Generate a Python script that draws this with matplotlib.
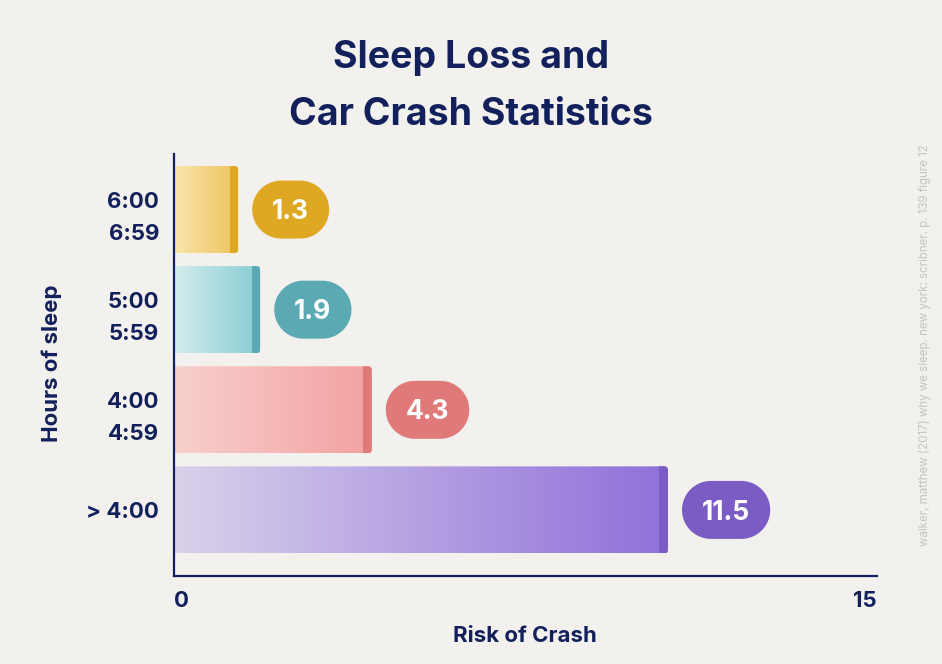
import numpy as np
import matplotlib
matplotlib.use("Agg")
import matplotlib.pyplot as plt
from matplotlib.patches import FancyBboxPatch, Rectangle, Polygon
from matplotlib.transforms import IdentityTransform
from matplotlib.colors import to_rgb

# ---------------- data ----------------
categories = ["6:00\n6:59", "5:00\n5:59", "4:00\n4:59", "> 4:00"]
risk = [1.3, 1.9, 4.3, 11.5]                 # value shown in the pills
bar_length = [1.37, 1.84, 4.22, 10.54]       # drawn bar lengths
x_ticks = [0, 15]
x_tick_labels = ["0", "15"]
title_lines = ["Sleep Loss and", "Car Crash Statistics"]
x_label = "Risk of Crash"
y_label = "Hours of sleep"
source = "walker, matthew (2017) why we sleep. new york: scribner. p. 139 figure 12"

# ---------------- style ----------------
grad_left = ["#F8E5AE", "#D3ECEC", "#F7D0CE", "#D9D1EA"]
grad_right = ["#EFC35C", "#86CDD4", "#F3A1A1", "#8F70DA"]
accent = ["#DFA823", "#5BAAB3", "#E07A7A", "#7A5CC4"]
BG = "#F3F1EE"
NAVY = "#12205C"
FONT = ["Inter", "DejaVu Sans"]
plt.rcParams["font.family"] = FONT

W, H = 942, 664
fig = plt.figure(figsize=(W / 100, H / 100), dpi=100, facecolor=BG)
ax = fig.add_axes([174 / W, (H - 576) / H, 703 / W, 422 / H])
ax.set_facecolor(BG)
ax.set_xlim(0, 15)
ax.set_ylim(3.66, -0.555)
ax.set_autoscale_on(False)

half = 0.435
renderer = fig.canvas.get_renderer()


def pill_vertices(x0, cy, w, h, n=40):
    r = h / 2
    a_r = np.linspace(-np.pi / 2, np.pi / 2, n)
    a_l = np.linspace(np.pi / 2, 3 * np.pi / 2, n)
    right = np.column_stack([x0 + w - r + r * np.cos(a_r), cy + r * np.sin(a_r)])
    left = np.column_stack([x0 + r + r * np.cos(a_l), cy + r * np.sin(a_l)])
    return np.vstack([right, left])


for i, (L, v) in enumerate(zip(bar_length, risk)):
    # pixel geometry of the bar (display coords)
    (x0, yb), (x1, yt) = ax.transData.transform([(0, i + half), (L, i - half)])
    h = yt - yb
    clip = FancyBboxPatch((x0 - 8, yb), (x1 - x0 + 8), h,
                          boxstyle="round,pad=0,rounding_size=4",
                          transform=IdentityTransform(), facecolor="none", edgecolor="none")
    t = np.linspace(0, 1, 256)[None, :, None]
    img = np.array(to_rgb(grad_left[i]))[None, None, :] * (1 - t) + \
          np.array(to_rgb(grad_right[i]))[None, None, :] * t
    im = ax.imshow(img, extent=(0, L, i + half, i - half), aspect="auto",
                   interpolation="bilinear", zorder=1)
    im.set_clip_path(clip)
    cap = Rectangle((x1 - 8.5, yb), 8.5, h, transform=IdentityTransform(),
                    facecolor=accent[i], edgecolor="none", zorder=1.5)
    cap.set_clip_path(clip)
    ax.add_patch(cap)

    # value pill
    cy = (yb + yt) / 2
    fs = 19
    txt = ax.text(0, 0, f"{v}", fontsize=fs, fontweight="bold", color="white",
                  transform=IdentityTransform(), ha="center", va="baseline", zorder=4)
    tw = txt.get_window_extent(renderer).width
    pw, ph = tw + 40, 58
    px0 = x1 + 14
    pill = Polygon(pill_vertices(px0, cy, pw, ph), closed=True,
                   transform=IdentityTransform(), facecolor=accent[i],
                   edgecolor="none", zorder=3, clip_on=False)
    ax.add_patch(pill)
    cap_h = 0.727 * fs * 100 / 72
    txt.set_position((px0 + pw / 2, cy - cap_h / 2))
    txt.set_clip_on(False)

# axes styling
for s in ["top", "right"]:
    ax.spines[s].set_visible(False)
for s in ["left", "bottom"]:
    ax.spines[s].set_color(NAVY)
    ax.spines[s].set_linewidth(1.6)
    ax.spines[s].set_zorder(5)

ax.set_yticks(range(len(categories)))
ax.set_yticklabels(categories, fontsize=16, fontweight="bold", color=NAVY,
                   linespacing=1.75, multialignment="right")
ax.set_xticks(x_ticks)
ax.set_xticklabels(x_tick_labels, fontsize=16, fontweight="bold", color=NAVY)
ax.tick_params(axis="both", length=0)
ax.tick_params(axis="y", pad=10.8)
ax.tick_params(axis="x", pad=10.5)
xt = ax.get_xticklabels()
xt[0].set_ha("left")
xt[-1].set_ha("right")

# titles and labels
fig.text(471 / W, (H - 68) / H, title_lines[0], ha="center", va="baseline",
         fontsize=27, fontweight="bold", color=NAVY)
fig.text(471 / W, (H - 125) / H, title_lines[1], ha="center", va="baseline",
         fontsize=27, fontweight="bold", color=NAVY)
fig.text(525 / W, (H - 642) / H, x_label, ha="center", va="baseline",
         fontsize=16, fontweight="bold", color=NAVY)
fig.text(52 / W, (H - 363) / H, y_label, ha="center", va="center", rotation=90,
         fontsize=16, fontweight="bold", color=NAVY)
fig.text(925 / W, (H - 345) / H, source, ha="center", va="center", rotation=90,
         fontsize=8.3, color="#C4C3C0")

fig.savefig("out.png", dpi=100, facecolor=BG)
